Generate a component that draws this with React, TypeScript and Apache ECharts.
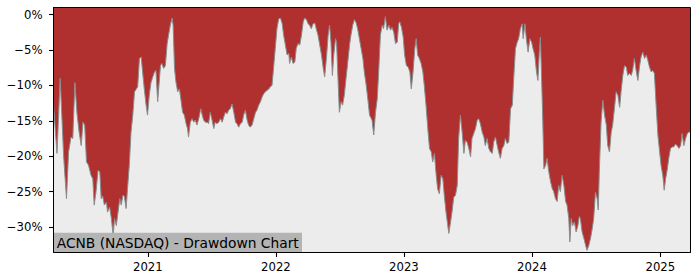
import React, { useEffect, useRef } from "react";
import * as echarts from "echarts";

const TITLE = "ACNB (NASDAQ) - Drawdown Chart";
const yearTicks = ["2021-01-01", "2022-01-01", "2023-01-01", "2024-01-01", "2025-01-01"];
const yTicks = [0, -5, -10, -15, -20, -25, -30];
const xStart = "2020-04-07";
const xEnd = "2025-03-28";

const dd2020: [string, number][] = [
  ["2020-04-07", -12.8], ["2020-04-17", -19.6], ["2020-04-26", -9.0], ["2020-05-06", -20.1],
  ["2020-05-14", -26.0], ["2020-05-20", -19.4], ["2020-05-27", -17.3], ["2020-06-01", -17.5],
  ["2020-06-07", -9.6], ["2020-06-13", -14.0], ["2020-06-19", -16.6], ["2020-06-25", -18.5],
  ["2020-06-30", -15.2], ["2020-07-05", -15.6], ["2020-07-10", -20.8], ["2020-07-16", -21.3],
  ["2020-07-23", -22.7], ["2020-07-28", -23.2], ["2020-08-01", -26.9], ["2020-08-06", -25.1],
  ["2020-08-12", -22.0], ["2020-08-17", -22.2], ["2020-08-21", -26.0], ["2020-08-25", -25.6],
  ["2020-08-30", -26.9], ["2020-09-05", -26.5], ["2020-09-08", -27.9], ["2020-09-14", -27.2],
  ["2020-09-19", -28.8], ["2020-09-24", -31.2], ["2020-09-28", -28.8], ["2020-10-03", -29.8],
  ["2020-10-08", -27.9], ["2020-10-13", -26.0], ["2020-10-17", -26.9], ["2020-10-22", -25.5],
  ["2020-10-26", -25.7], ["2020-10-31", -27.4], ["2020-11-04", -24.6], ["2020-11-09", -21.3],
  ["2020-11-14", -16.6], ["2020-11-19", -14.2], ["2020-11-24", -10.9], ["2020-11-28", -10.6],
  ["2020-12-03", -10.2], ["2020-12-08", -6.2], ["2020-12-13", -6.0], ["2020-12-17", -8.1],
  ["2020-12-22", -10.6], ["2020-12-27", -12.8], ["2020-12-31", -14.2],
];

const dd2021: [string, number][] = [
  ["2021-01-05", -11.4], ["2021-01-10", -9.6], ["2021-01-15", -8.8], ["2021-01-20", -8.1],
  ["2021-01-24", -7.9], ["2021-01-29", -12.3], ["2021-02-06", -7.2], ["2021-02-10", -6.9],
  ["2021-02-15", -7.6], ["2021-02-20", -7.2], ["2021-02-25", -4.1], ["2021-03-01", -2.9],
  ["2021-03-06", -1.5], ["2021-03-11", -0.5], ["2021-03-14", -1.5], ["2021-03-18", -7.6],
  ["2021-03-22", -9.5], ["2021-03-27", -10.9], ["2021-04-01", -10.5], ["2021-04-06", -12.3],
  ["2021-04-10", -13.8], ["2021-04-15", -14.2], ["2021-04-20", -15.4], ["2021-04-24", -16.1],
  ["2021-04-27", -17.3], ["2021-05-02", -15.2], ["2021-05-07", -14.7], ["2021-05-12", -15.2],
  ["2021-05-16", -14.9], ["2021-05-21", -15.6], ["2021-05-26", -14.7], ["2021-06-01", -13.3],
  ["2021-06-05", -14.2], ["2021-06-09", -14.9], ["2021-06-14", -15.2], ["2021-06-19", -15.2],
  ["2021-06-23", -15.4], ["2021-06-28", -13.8], ["2021-07-03", -14.9], ["2021-07-08", -16.1],
  ["2021-07-12", -15.2], ["2021-07-17", -15.4], ["2021-07-22", -15.2], ["2021-07-27", -14.7],
  ["2021-08-01", -15.2], ["2021-08-05", -14.5], ["2021-08-10", -13.8], ["2021-08-15", -14.0],
  ["2021-08-19", -13.5], ["2021-08-24", -13.3], ["2021-08-29", -12.6], ["2021-09-03", -13.8],
  ["2021-09-08", -15.2], ["2021-09-12", -15.4], ["2021-09-17", -15.9], ["2021-09-22", -15.4],
  ["2021-09-27", -15.2], ["2021-10-01", -14.2], ["2021-10-06", -13.5], ["2021-10-11", -14.9],
  ["2021-10-15", -15.6], ["2021-10-20", -15.9], ["2021-10-25", -15.6], ["2021-10-30", -14.7],
  ["2021-11-04", -13.8], ["2021-11-08", -13.5], ["2021-11-13", -12.8], ["2021-11-18", -12.3],
  ["2021-11-23", -11.6], ["2021-11-27", -11.2], ["2021-12-02", -10.9], ["2021-12-12", -10.5],
  ["2021-12-16", -10.2], ["2021-12-21", -10.0], ["2021-12-26", -7.2], ["2021-12-31", -4.3],
];

const dd2022: [string, number][] = [
  ["2022-01-04", -2.0], ["2022-01-09", -0.6], ["2022-01-14", -0.5], ["2022-01-19", -1.3],
  ["2022-01-23", -2.9], ["2022-01-28", -4.3], ["2022-02-02", -5.7], ["2022-02-07", -5.5],
  ["2022-02-09", -6.9], ["2022-02-14", -6.0], ["2022-02-19", -6.9], ["2022-02-24", -6.7],
  ["2022-02-28", -4.8], ["2022-03-05", -4.1], ["2022-03-10", -4.3], ["2022-03-15", -2.9],
  ["2022-03-20", -1.0], ["2022-03-24", -0.5], ["2022-03-29", -0.7], ["2022-04-03", -1.3],
  ["2022-04-07", -1.5], ["2022-04-12", -2.0], ["2022-04-17", -1.3], ["2022-04-22", -1.2],
  ["2022-04-26", -2.0], ["2022-05-01", -2.9], ["2022-05-06", -4.3], ["2022-05-11", -5.7],
  ["2022-05-16", -7.6], ["2022-05-20", -8.8], ["2022-05-25", -6.2], ["2022-05-30", -2.9],
  ["2022-06-03", -1.5], ["2022-06-07", -3.9], ["2022-06-11", -8.6], ["2022-06-15", -5.7],
  ["2022-06-20", -3.4], ["2022-06-23", -3.9], ["2022-06-27", -9.0], ["2022-07-01", -13.8],
  ["2022-07-06", -12.3], ["2022-07-10", -12.8], ["2022-07-15", -11.4], ["2022-07-20", -9.0],
  ["2022-07-25", -6.7], ["2022-07-30", -4.3], ["2022-08-03", -2.9], ["2022-08-08", -1.5],
  ["2022-08-13", -0.7], ["2022-08-18", -1.2], ["2022-08-22", -2.0], ["2022-08-27", -3.4],
  ["2022-09-01", -4.8], ["2022-09-06", -6.2], ["2022-09-10", -8.1], ["2022-09-15", -9.8],
  ["2022-09-20", -11.9], ["2022-09-25", -14.2], ["2022-09-28", -14.5], ["2022-10-02", -14.9],
  ["2022-10-07", -17.0], ["2022-10-12", -13.8], ["2022-10-17", -11.9], ["2022-10-21", -8.1],
  ["2022-10-26", -2.9], ["2022-10-31", -1.5], ["2022-11-04", -2.0], ["2022-11-09", -0.3],
  ["2022-11-14", -2.2], ["2022-11-19", -1.5], ["2022-11-24", -2.2], ["2022-11-28", -1.8],
  ["2022-12-03", -2.5], ["2022-12-08", -4.1], ["2022-12-13", -3.9], ["2022-12-17", -1.3],
  ["2022-12-20", -1.0], ["2022-12-25", -1.8], ["2022-12-30", -3.2],
];

const dd2023: [string, number][] = [
  ["2023-01-03", -5.7], ["2023-01-08", -7.2], ["2023-01-13", -7.4], ["2023-01-18", -8.1],
  ["2023-01-22", -10.5], ["2023-01-27", -8.1], ["2023-02-01", -4.8], ["2023-02-05", -3.4],
  ["2023-02-09", -5.7], ["2023-02-14", -6.2], ["2023-02-19", -6.9], ["2023-02-24", -8.1],
  ["2023-02-28", -10.0], ["2023-03-05", -12.8], ["2023-03-10", -16.1], ["2023-03-15", -18.9],
  ["2023-03-20", -19.4], ["2023-03-24", -20.8], ["2023-03-29", -19.6], ["2023-04-03", -22.7],
  ["2023-04-07", -24.6], ["2023-04-12", -25.3], ["2023-04-17", -22.7], ["2023-04-22", -23.2],
  ["2023-04-26", -25.5], ["2023-05-01", -27.9], ["2023-05-06", -29.8], ["2023-05-09", -30.9],
  ["2023-05-14", -29.3], ["2023-05-18", -27.9], ["2023-05-23", -25.8], ["2023-05-28", -25.5],
  ["2023-06-02", -24.1], ["2023-06-06", -17.5], ["2023-06-11", -14.2], ["2023-06-16", -16.6],
  ["2023-06-21", -19.6], ["2023-06-25", -17.8], ["2023-06-30", -18.0], ["2023-07-05", -18.9],
  ["2023-07-10", -20.1], ["2023-07-14", -17.5], ["2023-07-19", -16.8], ["2023-07-24", -16.1],
  ["2023-07-29", -14.9], ["2023-08-02", -14.7], ["2023-08-07", -15.4], ["2023-08-12", -16.6],
  ["2023-08-17", -17.3], ["2023-08-21", -18.5], ["2023-08-26", -17.5], ["2023-08-31", -18.9],
  ["2023-09-05", -19.4], ["2023-09-10", -19.6], ["2023-09-14", -18.0], ["2023-09-19", -17.3],
  ["2023-09-24", -18.5], ["2023-09-28", -19.4], ["2023-10-03", -20.3], ["2023-10-08", -18.9],
  ["2023-10-13", -18.5], ["2023-10-17", -17.5], ["2023-10-22", -18.2], ["2023-10-27", -18.0],
  ["2023-11-01", -13.3], ["2023-11-06", -12.8], ["2023-11-10", -9.0], ["2023-11-15", -4.8],
  ["2023-11-20", -3.9], ["2023-11-24", -3.4], ["2023-11-29", -2.0], ["2023-12-04", -1.3],
  ["2023-12-07", -3.4], ["2023-12-12", -1.3], ["2023-12-16", -3.4], ["2023-12-21", -5.3],
  ["2023-12-26", -3.4], ["2023-12-31", -3.9],
];

const dd2024: [string, number][] = [
  ["2024-01-04", -4.8], ["2024-01-09", -5.7], ["2024-01-14", -8.1], ["2024-01-18", -9.3],
  ["2024-01-22", -5.3], ["2024-01-25", -3.2], ["2024-01-28", -8.1], ["2024-02-01", -15.2],
  ["2024-02-04", -21.8], ["2024-02-09", -21.3], ["2024-02-13", -20.3], ["2024-02-18", -22.2],
  ["2024-02-23", -23.6], ["2024-02-28", -24.6], ["2024-03-03", -25.0], ["2024-03-08", -26.0],
  ["2024-03-13", -26.4], ["2024-03-17", -24.1], ["2024-03-22", -25.0], ["2024-03-27", -22.7],
  ["2024-04-01", -24.1], ["2024-04-06", -26.4], ["2024-04-10", -26.9], ["2024-04-15", -28.8],
  ["2024-04-18", -32.1], ["2024-04-22", -28.8], ["2024-04-26", -29.8], ["2024-05-01", -29.3],
  ["2024-05-06", -30.7], ["2024-05-11", -29.8], ["2024-05-15", -28.5], ["2024-05-18", -28.8],
  ["2024-05-23", -30.7], ["2024-05-28", -31.6], ["2024-06-02", -32.6], ["2024-06-06", -33.3],
  ["2024-06-11", -32.6], ["2024-06-16", -31.6], ["2024-06-21", -30.2], ["2024-06-25", -28.8],
  ["2024-06-30", -25.1], ["2024-07-05", -26.0], ["2024-07-08", -27.6], ["2024-07-11", -22.2],
  ["2024-07-16", -15.2], ["2024-07-21", -12.1], ["2024-07-26", -14.2], ["2024-07-31", -15.6],
  ["2024-08-04", -18.5], ["2024-08-09", -19.4], ["2024-08-14", -16.6], ["2024-08-18", -15.6],
  ["2024-08-23", -13.3], ["2024-08-28", -10.9], ["2024-09-02", -11.4], ["2024-09-07", -13.1],
  ["2024-09-11", -10.9], ["2024-09-16", -8.6], ["2024-09-21", -7.2], ["2024-09-26", -7.4],
  ["2024-09-30", -8.6], ["2024-10-05", -8.3], ["2024-10-10", -8.6], ["2024-10-14", -7.9],
  ["2024-10-19", -6.2], ["2024-10-24", -7.9], ["2024-10-29", -9.3], ["2024-11-03", -7.2],
  ["2024-11-07", -6.0], ["2024-11-12", -5.3], ["2024-11-17", -6.2], ["2024-11-22", -5.7],
  ["2024-11-26", -6.4], ["2024-12-01", -7.4], ["2024-12-06", -8.1], ["2024-12-10", -7.9],
  ["2024-12-15", -8.3], ["2024-12-20", -12.8], ["2024-12-25", -17.0], ["2024-12-30", -19.4],
];

const dd2025: [string, number][] = [
  ["2025-01-03", -21.3], ["2025-01-08", -22.7], ["2025-01-12", -24.8], ["2025-01-16", -23.2],
  ["2025-01-21", -21.8], ["2025-01-25", -20.3], ["2025-01-30", -18.9], ["2025-02-04", -18.7],
  ["2025-02-08", -18.7], ["2025-02-13", -18.3], ["2025-02-18", -18.5], ["2025-02-23", -18.9],
  ["2025-02-28", -18.5], ["2025-03-04", -16.8], ["2025-03-09", -18.5], ["2025-03-14", -17.5],
  ["2025-03-19", -16.8], ["2025-03-23", -16.6], ["2025-03-28", -16.6],
];

const RED = "#b03030";
const FILL = "#ececec";
const EDGE = "#8c8c8c";
const LABEL_BG = "#b4b4b4";
const FONT = "'DejaVu Sans', sans-serif";

function ts(s: string): number {
  const [y, m, d] = s.split("-").map(Number);
  return new Date(y, m - 1, d).getTime();
}

export default function App() {
  const ref = useRef<HTMLDivElement>(null);

  useEffect(() => {
    if (!ref.current) return;
    const chart = echarts.init(ref.current, null, { renderer: "svg" });
    const all = [...dd2020, ...dd2021, ...dd2022, ...dd2023, ...dd2024, ...dd2025];
    const data = all.map(([d, v]) => [ts(d), v]);
    const yearVals = yearTicks.map(ts);

    const L = 53.5, T = 7.5, R = 690.5, B = 252.5;

    chart.setOption({
      animation: false,
      grid: {
        left: L, top: T, right: 700 - R, bottom: 280 - B,
        show: true, backgroundColor: RED, borderWidth: 0,
      },
      xAxis: {
        type: "value",
        position: "bottom",
        min: ts(xStart),
        max: ts(xEnd),
        axisLine: { show: true, onZero: false, lineStyle: { color: "#000", width: 1 } },
        axisTick: {
          show: true, length: 4.5, inside: false,
          lineStyle: { color: "#000", width: 1.1 },
          customValues: yearVals,
        },
        axisLabel: {
          customValues: yearVals,
          formatter: (v: number) => String(new Date(v).getFullYear()),
          color: "#000", fontFamily: FONT, fontSize: 11.7, margin: 8,
        },
        splitLine: { show: false },
      },
      yAxis: {
        type: "value",
        position: "left",
        min: -33.6,
        max: 1,
        axisLine: { show: true, onZero: false, lineStyle: { color: "#000", width: 1 } },
        axisTick: {
          show: true, length: 4.5, inside: false,
          lineStyle: { color: "#000", width: 1.1 },
          customValues: yTicks,
        },
        axisLabel: {
          customValues: yTicks,
          formatter: (v: number) => (v === 0 ? "0%" : "\u2212" + Math.abs(v) + "%"),
          color: "#000", fontFamily: FONT, fontSize: 11.7, margin: 11,
        },
        splitLine: { show: false },
      },
      series: [
        {
          type: "line",
          data,
          symbol: "none",
          showSymbol: false,
          lineStyle: { color: EDGE, width: 1 },
          areaStyle: { color: FILL, opacity: 1, origin: "start" },
          z: 3,
        },
      ],
      graphic: [
        {
          type: "rect",
          z: 50,
          shape: { x: L, y: 232.7, width: 302 - L, height: B - 232.7 },
          style: { fill: LABEL_BG },
        },
        {
          type: "text",
          z: 51,
          x: 56.7,
          y: 242.5,
          style: {
            text: TITLE,
            fill: "#000",
            fontFamily: FONT,
            fontSize: 13.8,
            align: "left",
            verticalAlign: "middle",
          },
        },
        {
          type: "rect",
          z: 100,
          shape: { x: L, y: T, width: R - L, height: B - T },
          style: { fill: "none", stroke: "#000", lineWidth: 1 },
        },
      ],
    });

    return () => chart.dispose();
  }, []);

  return (
    <div
      ref={ref}
      style={{ position: "fixed", left: 0, top: 0, width: 700, height: 280, background: "#fff" }}
    />
  );
}
